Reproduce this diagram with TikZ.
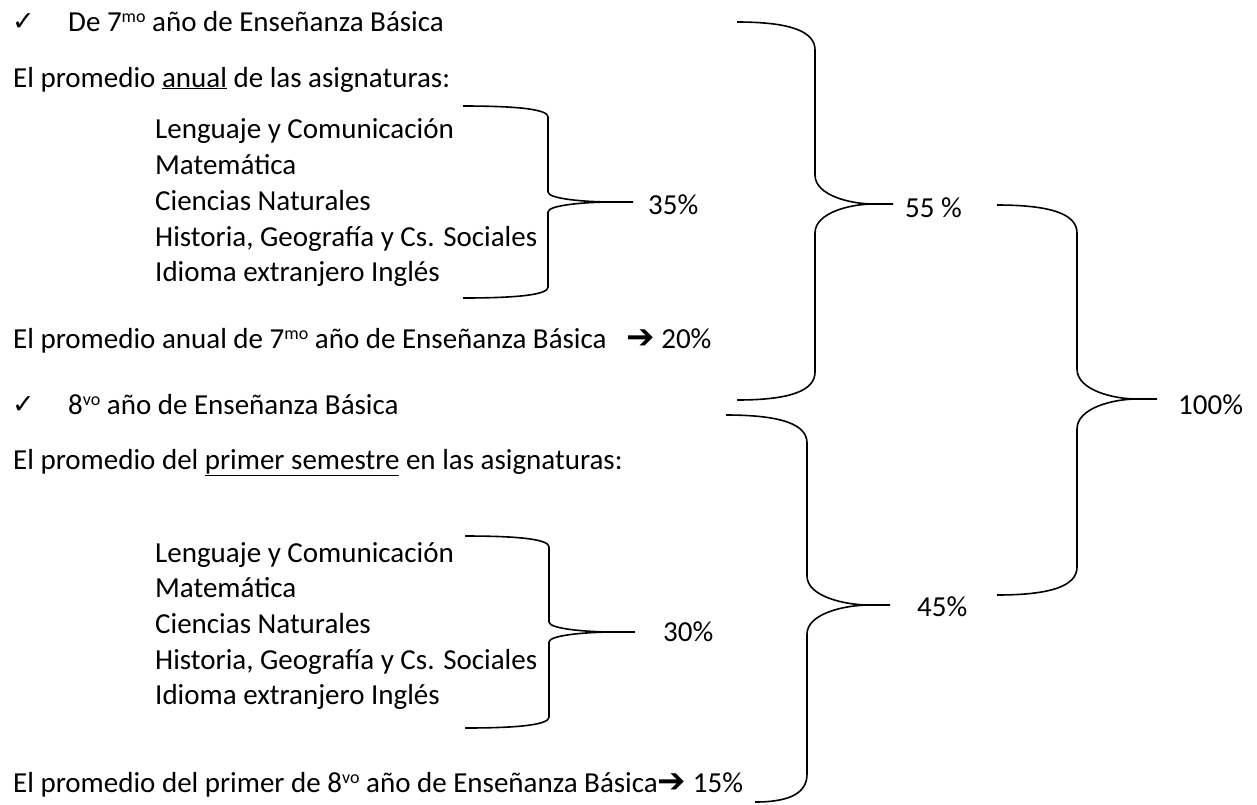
\documentclass[tikz,border=0pt]{standalone}
\usepackage{fontspec}
\setmainfont{Carlito}
\newfontfamily\symfont{DejaVu Sans}
\tikzset{
  txt/.style={inner sep=0pt, anchor=base west, font=\fontsize{29}{35}\selectfont},
  chk/.style={inner sep=0pt, anchor=base west, font=\symfont\fontsize{27}{30}\selectfont},
  brc/.style={draw=black, line width=1.6pt, line join=round}
}
\newcommand\arw{{\symfont\fontsize{34}{36}\selectfont ➔}}
\newcommand\sups[1]{\raisebox{9pt}{\fontsize{18}{20}\selectfont #1}}
% right brace: x0 (ends), xv (spine), xt (tip), yt, ym, yb, r (end radius), s (tip radius), xb (bottom end x)
\newcommand\mybrc[9]{%
  \draw[brc] (#1,#4) .. controls ({#2-0.3*(#2-#1)},#4) and (#2,{#4+0.35*#7}) .. (#2,{#4+#7})
    -- (#2,{#5-#8}) .. controls (#2,{#5-0.3*#8}) and ({#2+0.45*(#3-#2)},#5) .. ({#2+0.75*(#3-#2)},#5) -- (#3,#5);
  \draw[brc] ({#2+0.75*(#3-#2)},#5) .. controls ({#2+0.45*(#3-#2)},#5) and (#2,{#5+0.3*#8}) .. (#2,{#5+#8})
    -- (#2,{#6-#7}) .. controls (#2,{#6-0.35*#7}) and ({#2-0.3*(#2-#9)},#6) .. (#9,#6);
}
\begin{document}
\begin{tikzpicture}[x=1pt,y=-1pt]
\useasboundingbox (0,0) rectangle (1257,804);
\fill[white] (0,0) rectangle (1257,804);

% first block
\node[chk] (c1) at (12,30) {✓};
\node[txt] (h1) at (68,31) {De 7\sups{mo} año de Enseñanza Básica};
\node[txt] (p1) at (13,87) {El promedio \underline{anual} de las asignaturas:};
\node[txt] (a1) at (155,138) {Lenguaje y Comunicación};
\node[txt] (a2) at (155,174) {Matemática};
\node[txt] (a3) at (155,210) {Ciencias Naturales};
\node[txt] (a4) at (155,246) {Historia, Geografía y Cs. Sociales};
\node[txt] (a5) at (155,281) {Idioma extranjero Inglés};
\node[txt] (q35) at (648,214) {35\%};
\node[txt] (q55) at (905,217) {55 \%};
\node[txt] (r1) at (13,348) {El promedio anual de 7\sups{mo} año de Enseñanza Básica \ \ \arw\ 20\%};

% second block
\node[chk] (c2) at (12,413) {✓};
\node[txt] (h2) at (68,414) {8\sups{vo} año de Enseñanza Básica};
\node[txt] (q100) at (1178,414) {100\%};
\node[txt] (p2) at (13,469) {El promedio del \underline{primer semestre} en las asignaturas:};
\node[txt] (b1) at (155,562) {Lenguaje y Comunicación};
\node[txt] (b2) at (155,597) {Matemática};
\node[txt] (b3) at (155,633) {Ciencias Naturales};
\node[txt] (b4) at (155,669) {Historia, Geografía y Cs. Sociales};
\node[txt] (b5) at (155,704) {Idioma extranjero Inglés};
\node[txt] (q30) at (663,641) {30\%};
\node[txt] (q45) at (917,616) {45\%};
\node[txt] (r2) at (13,792) {El promedio del primer de 8\sups{vo} año de Enseñanza Básica\arw\ 15\%};

% braces
\mybrc{463}{548}{633}{106}{202}{298}{11}{10}{463}
\mybrc{465}{549}{635}{536}{632}{728}{11}{10}{465}
\mybrc{737}{815}{893}{22}{204}{400}{28}{29}{737}
\mybrc{726}{807}{890}{415}{605}{802}{28}{29}{755}
\mybrc{997}{1077}{1157}{205}{399}{595}{28}{30}{997}
\end{tikzpicture}
\end{document}
